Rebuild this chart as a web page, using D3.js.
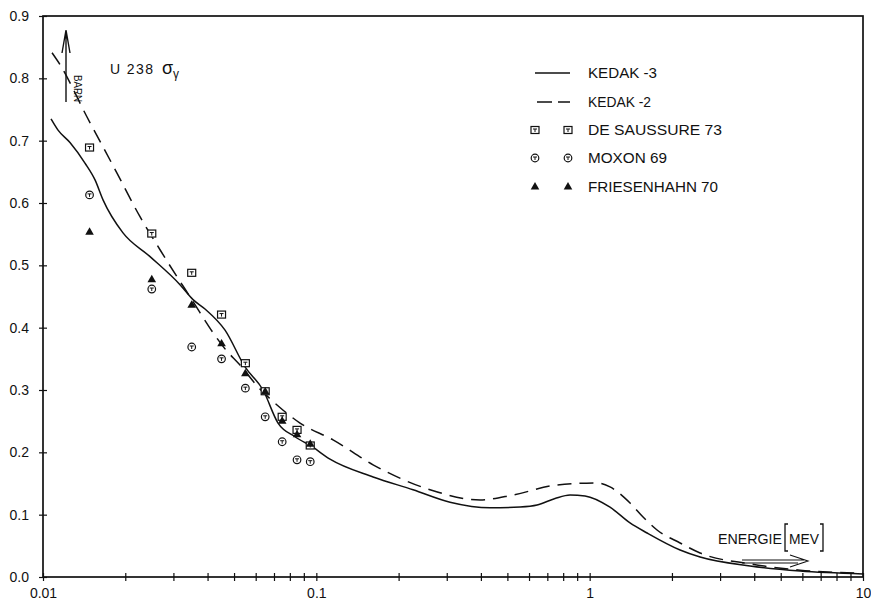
<!DOCTYPE html>
<html>
<head>
<meta charset="utf-8">
<script src="https://cdn.jsdelivr.net/npm/d3@7"></script>
<style>
  html, body { margin: 0; padding: 0; background: #fff; }
  svg { display: block; }
  text { font-family: "Liberation Sans", Arial, sans-serif; fill: #111; }
</style>
</head>
<body>
<div id="chart"></div>
<script>
// ---------- DATA ----------
const xTickValues = [0.01, 0.1, 1, 10];
const xTickLabels = ["0.01", "0.1", "1", "10"];
const yTickValues = [0, 0.1, 0.2, 0.3, 0.4, 0.5, 0.6, 0.7, 0.8, 0.9];
const yTickLabels = ["0.0", "0.1", "0.2", "0.3", "0.4", "0.5", "0.6", "0.7", "0.8", "0.9"];

// KEDAK-3 (solid)
const kedak3Energy = [0.0107, 0.01135, 0.01255, 0.01424, 0.0155, 0.01658, 0.01962, 0.02464, 0.03171, 0.03539,
  0.03914, 0.04634, 0.05484, 0.06383, 0.07242, 0.08358, 0.09645, 0.1122, 0.1613, 0.2259, 0.3084, 0.4321,
  0.5564, 0.6422, 0.7471, 0.8479, 0.9621, 1.187, 1.405, 1.622, 2.142, 2.535, 3.863, 5.887, 10];
const kedak3Sigma = [0.735, 0.717, 0.697, 0.664, 0.637, 0.605, 0.552, 0.514, 0.469, 0.445,
  0.430, 0.396, 0.337, 0.300, 0.247, 0.225, 0.209, 0.189, 0.1605, 0.140, 0.120, 0.111,
  0.1124, 0.1156, 0.126, 0.1316, 0.130, 0.112, 0.0867, 0.0706, 0.0433, 0.032, 0.0177, 0.0096, 0.005];

// KEDAK-2 (dashed)
const kedak2Energy = [0.01079, 0.01154, 0.01449, 0.01865, 0.02264, 0.0268, 0.03093, 0.03365, 0.03754, 0.04188,
  0.04634, 0.05258, 0.06118, 0.0718, 0.08718, 0.1151, 0.1613, 0.2606, 0.3972, 0.5245, 0.7598, 1.064,
  1.187, 1.405, 1.568, 1.764, 2.142, 2.535, 3.863, 5.887, 10];
const kedak2Sigma = [0.841, 0.822, 0.738, 0.648, 0.578, 0.525, 0.4815, 0.457, 0.424, 0.392,
  0.366, 0.340, 0.305, 0.276, 0.247, 0.220, 0.180, 0.140, 0.1236, 0.1316, 0.1477, 0.151,
  0.1445, 0.1188, 0.0963, 0.0754, 0.0546, 0.0385, 0.021, 0.011, 0.006];

// Experimental points
const expEnergy = [0.0148, 0.025, 0.035, 0.045, 0.055, 0.065, 0.075, 0.085, 0.095];
const deSaussure73 = [0.689, 0.551, 0.488, 0.421, 0.343, 0.298, 0.257, 0.236, 0.211];
const moxon69 = [0.613, 0.462, 0.369, 0.350, 0.303, 0.257, 0.217, 0.188, 0.185];
const friesenhahn70 = [0.553, 0.477, 0.436, 0.374, 0.326, 0.297, 0.250, 0.228, 0.213];

const legendLabels = ["KEDAK -3", "KEDAK -2", "DE  SAUSSURE  73", "MOXON  69", "FRIESENHAHN  70"];
const legendKinds = ["solid", "dashed", "square", "circle", "triangle"];

// ---------- CHART ----------
const W = 871, H = 600;
const svg = d3.select("#chart").append("svg").attr("width", W).attr("height", H);
svg.append("rect").attr("width", W).attr("height", H).attr("fill", "#fff");

const x = d3.scaleLog().domain([0.01, 10]).range([43, 863]);
const y = d3.scaleLinear().domain([0, 0.9]).range([577, 16]);
const ink = "#111";

// frame
svg.append("rect").attr("x", x(0.01)).attr("y", y(0.9))
  .attr("width", x(10) - x(0.01)).attr("height", y(0) - y(0.9))
  .attr("fill", "none").attr("stroke", ink).attr("stroke-width", 1.7);

// x ticks (major + minor) crossing axis
const minorX = [];
[0.01, 0.1, 1].forEach(d => { for (let k = 1; k <= 9; k++) minorX.push(d * k); });
minorX.push(10);
svg.append("g").attr("transform", `translate(0,${y(0) - 4})`)
  .call(d3.axisBottom(x).tickValues(minorX).tickSize(8).tickFormat(""))
  .call(g => g.select(".domain").remove())
  .call(g => g.selectAll("line").attr("stroke", ink).attr("stroke-width", 1.2));
svg.append("g").attr("transform", `translate(0,${y(0)})`)
  .call(d3.axisBottom(x).tickValues(xTickValues).tickSize(0).tickPadding(11)
    .tickFormat((d, i) => xTickLabels[i]))
  .call(g => g.select(".domain").remove())
  .call(g => g.selectAll("text").attr("font-size", 14).attr("fill", ink)
    .attr("font-family", '"Liberation Sans", Arial, sans-serif'));

// y ticks crossing axis
svg.append("g").attr("transform", `translate(${x(0.01) + 4},0)`)
  .call(d3.axisLeft(y).tickValues(yTickValues).tickSize(8).tickFormat(""))
  .call(g => g.select(".domain").remove())
  .call(g => g.selectAll("line").attr("stroke", ink).attr("stroke-width", 1.2));
svg.append("g").attr("transform", `translate(${x(0.01)},0)`)
  .call(d3.axisLeft(y).tickValues(yTickValues).tickSize(0).tickPadding(14)
    .tickFormat((d, i) => yTickLabels[i]))
  .call(g => g.select(".domain").remove())
  .call(g => g.selectAll("text").attr("font-size", 14).attr("fill", ink)
    .attr("font-family", '"Liberation Sans", Arial, sans-serif'));

// curves
const line = d3.line().x(d => x(d[0])).y(d => y(d[1])).curve(d3.curveMonotoneX);
svg.append("path").datum(kedak3Energy.map((e, i) => [e, kedak3Sigma[i]]))
  .attr("d", line).attr("fill", "none").attr("stroke", ink).attr("stroke-width", 1.5);
svg.append("path").datum(kedak2Energy.map((e, i) => [e, kedak2Sigma[i]]))
  .attr("d", line).attr("fill", "none").attr("stroke", ink).attr("stroke-width", 1.5)
  .attr("stroke-dasharray", "14,8");

// markers
function drawMarker(g, kind, cx, cy) {
  if (kind === "square") {
    g.append("rect").attr("x", cx - 4).attr("y", cy - 3.5).attr("width", 8).attr("height", 7)
      .attr("fill", "#fff").attr("stroke", ink).attr("stroke-width", 1.2);
    g.append("path").attr("d", `M${cx - 2},${cy - 1}h4M${cx},${cy - 1}v3`)
      .attr("stroke", ink).attr("stroke-width", 1).attr("fill", "none");
  } else if (kind === "circle") {
    g.append("circle").attr("cx", cx).attr("cy", cy).attr("r", 3.8)
      .attr("fill", "#fff").attr("stroke", ink).attr("stroke-width", 1.2);
    g.append("path").attr("d", `M${cx - 2},${cy - 1}h4M${cx},${cy - 1}v3`)
      .attr("stroke", ink).attr("stroke-width", 1).attr("fill", "none");
  } else if (kind === "triangle") {
    g.append("path").attr("transform", `translate(${cx},${cy})`)
      .attr("d", d3.symbol(d3.symbolTriangle, 32)()).attr("fill", ink);
  }
}
const pts = svg.append("g");
expEnergy.forEach((e, i) => drawMarker(pts, "circle", x(e), y(moxon69[i])));
expEnergy.forEach((e, i) => drawMarker(pts, "square", x(e), y(deSaussure73[i])));
expEnergy.forEach((e, i) => drawMarker(pts, "triangle", x(e), y(friesenhahn70[i])));

// legend
const lg = svg.append("g");
const lgY = [73, 102, 130, 158, 187];
const lgWidths = [69, 63, 134, 79, 130];
legendKinds.forEach((k, i) => {
  const yy = lgY[i];
  if (k === "solid") {
    lg.append("line").attr("x1", 535).attr("x2", 570).attr("y1", yy).attr("y2", yy)
      .attr("stroke", ink).attr("stroke-width", 1.5);
  } else if (k === "dashed") {
    lg.append("line").attr("x1", 537).attr("x2", 570).attr("y1", yy).attr("y2", yy)
      .attr("stroke", ink).attr("stroke-width", 1.5).attr("stroke-dasharray", "15,6");
  } else {
    drawMarker(lg, k, 535, yy);
    drawMarker(lg, k, 568, yy);
  }
  lg.append("text").attr("x", 588).attr("y", yy + 5).attr("font-size", 15)
    .attr("textLength", lgWidths[i]).attr("lengthAdjust", "spacingAndGlyphs")
    .text(legendLabels[i]);
});

// title text
const t = svg.append("text").attr("x", 110).attr("y", 74).attr("font-size", 14);
t.append("tspan").attr("textLength", 43).attr("lengthAdjust", "spacing").text("U 238");
t.append("tspan").attr("x", 162).attr("font-size", 18).text("σ");
t.append("tspan").attr("font-size", 12).attr("dy", 4).text("γ");

// y-axis unit arrow
svg.append("path").attr("d", "M66,102V30M62,53L66,30L70,53")
  .attr("fill", "none").attr("stroke", ink).attr("stroke-width", 1.4);
svg.append("text").attr("transform", "translate(74,75) rotate(90)")
  .attr("font-size", 10).attr("textLength", 27)
  .attr("lengthAdjust", "spacingAndGlyphs").text("BARN");

// energy label and arrow
svg.append("text").attr("x", 718).attr("y", 544).attr("font-size", 15)
  .attr("textLength", 64).attr("lengthAdjust", "spacingAndGlyphs").text("ENERGIE");
svg.append("path").attr("d", "M788,524h-3v27h3M820,524h3v27h-3")
  .attr("fill", "none").attr("stroke", ink).attr("stroke-width", 1.3);
svg.append("text").attr("x", 789).attr("y", 544).attr("font-size", 15)
  .attr("textLength", 30).attr("lengthAdjust", "spacingAndGlyphs").text("MEV");
svg.append("path").attr("d", "M742,560H804M742,563H798M790,555L808,561L790,567")
  .attr("fill", "none").attr("stroke", ink).attr("stroke-width", 1.1);
</script>
</body>
</html>
